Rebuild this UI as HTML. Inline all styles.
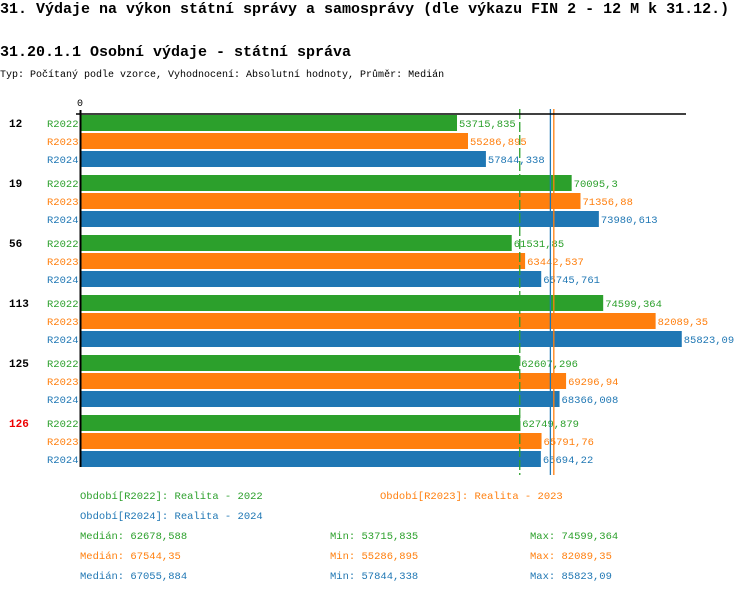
<!DOCTYPE html>
<html><head><meta charset="utf-8"><style>
body{margin:0;background:#fff;width:750px;height:594px;overflow:hidden;font-family:"Liberation Mono",monospace;}
svg text{font-family:"Liberation Mono",monospace;}
</style></head><body>
<svg id="c" width="750" height="594">
<text x="0" y="13" font-size="15" font-weight="bold">31. Výdaje na výkon státní správy a samosprávy (dle výkazu FIN 2 - 12 M k 31.12.)</text>
<text x="0" y="56" font-size="15" font-weight="bold">31.20.1.1 Osobní výdaje - státní správa</text>
<text x="0" y="77" font-size="10">Typ: Počítaný podle vzorce, Vyhodnocení: Absolutní hodnoty, Průměr: Medián</text>
<g id="bars"></g>
<text x="77" y="106" font-size="10">0</text>
<line x1="76" y1="114" x2="686" y2="114" stroke="#000" stroke-width="1.5"/>
<line x1="80.5" y1="110" x2="80.5" y2="467" stroke="#000" stroke-width="2"/>
<g id="legend" font-size="10.5"></g>
</svg>
<script>
const categories=["12","19","56","113","125","126"];
const series=["R2022","R2023","R2024"];
const v2022=[53715.835,70095.3,61531.85,74599.364,62607.296,62749.879];
const v2023=[55286.895,71356.88,63442.537,82089.35,69296.94,65791.76];
const v2024=[57844.338,73980.613,65745.761,85823.09,68366.008,65694.22];
const labels2022=["53715,835","70095,3","61531,85","74599,364","62607,296","62749,879"];
const labels2023=["55286,895","71356,88","63442,537","82089,35","69296,94","65791,76"];
const labels2024=["57844,338","73980,613","65745,761","85823,09","68366,008","65694,22"];
const medians=[62678.588,67544.35,67055.884];
const colors=["#2ca02c","#ff7f0e","#1f77b4"];
const NS="http://www.w3.org/2000/svg";
const x=v=>81+v*0.007;
const g=document.getElementById('bars');
function mk(t,a,p){const e=document.createElementNS(NS,t);for(const k in a)e.setAttribute(k,a[k]);(p||g).appendChild(e);return e;}
const vals=[v2022,v2023,v2024],labs=[labels2022,labels2023,labels2024];
categories.forEach((c,i)=>{
  const y0=115+i*60;
  const t=mk('text',{x:9,y:y0+12,'font-size':11,'font-weight':'bold',fill:i==5?'#e00':'#000'});t.textContent=c;
  
  
  series.forEach((s,j)=>{
    const y=y0+j*18;
    const l=mk('text',{x:47,y:y+12,'font-size':10.5,fill:colors[j]});l.textContent=s;
    
    
    const r=mk('rect',{x:81,y:y,width:x(vals[j][i])-81,height:16,fill:colors[j]});
    
    
    const v=mk('text',{x:x(vals[j][i])+2,y:y+12,'font-size':10.5,fill:colors[j]});v.textContent=labs[j][i];
    
    
  });
});
medians.forEach((m,j)=>{
  const l=mk('line',{x1:x(m),y1:109,x2:x(m),y2:475,stroke:colors[j],'stroke-width':1.3,'stroke-dasharray':j==0?'10,3':'none'});
  
  
});
const lg=document.getElementById('legend');
const leg=[[80,499,"Období[R2022]: Realita - 2022",0],[380,499,"Období[R2023]: Realita - 2023",1],[80,519,"Období[R2024]: Realita - 2024",2],
[80,539,"Medián: 62678,588",0],[330,539,"Min: 53715,835",0],[530,539,"Max: 74599,364",0],
[80,559,"Medián: 67544,35",1],[330,559,"Min: 55286,895",1],[530,559,"Max: 82089,35",1],
[80,579,"Medián: 67055,884",2],[330,579,"Min: 57844,338",2],[530,579,"Max: 85823,09",2]];
leg.forEach(a=>{const t=mk('text',{x:a[0],y:a[1],fill:colors[a[3]]},lg);t.textContent=a[2];

});
</script>
</body></html>
